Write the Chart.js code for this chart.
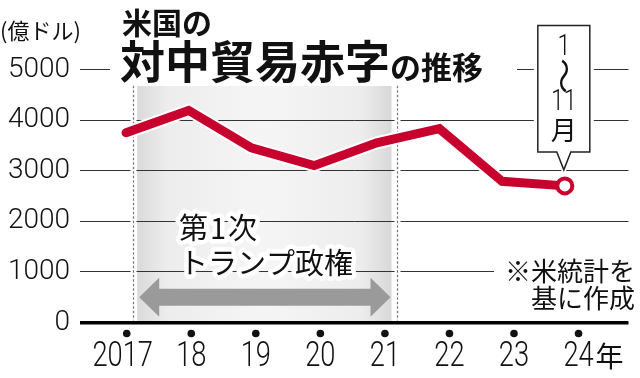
<!DOCTYPE html>
<html lang="ja">
<head>
<meta charset="utf-8">
<script src="https://cdn.jsdelivr.net/npm/chart.js@4.4.0/dist/chart.umd.min.js"></script>
<style>
  html, body { margin: 0; padding: 0; background: #fff; }
</style>
</head>
<body>
<canvas id="chart" width="640" height="378"></canvas>
<script>
const years = ['2017', '18', '19', '20', '21', '22', '23', '24'];
const deficit = [3750, 4190, 3450, 3100, 3550, 3830, 2790, 2700]; // 億ドル, 2024 is Jan-Nov
const yTicks = [0, 1000, 2000, 3000, 4000, 5000];
const termStart = 0.1;   // first Trump term, on the tick axis
const termEnd = 4.18;

const RED = '#c8002d';
const JP = '"Noto Sans CJK JP", "Noto Sans", sans-serif';
const NUM = 'Roboto, "Liberation Sans", sans-serif';

function haloText(ctx, text, x, y, w) {
    ctx.lineJoin = 'round';
    ctx.lineWidth = w;
    ctx.strokeStyle = '#fff';
    ctx.strokeText(text, x, y);
    ctx.fillText(text, x, y);
}

function narrowText(ctx, text, x, y, sx) {
    ctx.save();
    ctx.translate(x, y);
    ctx.scale(sx, 1);
    ctx.fillText(text, 0, 0);
    ctx.restore();
}

const decor = {
    id: 'decor',
    beforeDraw(chart) {
        const {ctx, chartArea} = chart;
        const xt = chart.scales.xt, y = chart.scales.y;
        const l = xt.getPixelForValue(termStart) + 4, r = xt.getPixelForValue(termEnd) - 5;
        const top = y.getPixelForValue(4680);
        const g = ctx.createLinearGradient(l, 0, r, 0);
        g.addColorStop(0, '#dadada');
        g.addColorStop(0.12, '#ededed');
        g.addColorStop(0.5, '#f5f5f5');
        g.addColorStop(0.88, '#ededed');
        g.addColorStop(1, '#d8d8d8');
        ctx.save();
        ctx.fillStyle = g;
        ctx.fillRect(l, top, r - l, chartArea.bottom - top);
        ctx.restore();
    },
    beforeDatasetsDraw(chart) {
        const {ctx, chartArea} = chart;
        const xt = chart.scales.xt, y = chart.scales.y;
        const top = y.getPixelForValue(4680);
        ctx.save();
        // white gaps where the title and the note sit on the grid
        ctx.fillStyle = '#fff';
        ctx.fillRect(110, 56, 407, 30);
        ctx.fillRect(494, 258, 146, 54);
        // dashed term borders
        [termStart, termEnd].forEach(v => {
            const px = Math.round(xt.getPixelForValue(v)) + 0.5;
            ctx.fillStyle = '#fff';
            ctx.fillRect(px - 3, top, 6, chartArea.bottom - top - 2);
            ctx.strokeStyle = '#777';
            ctx.lineWidth = 1.2;
            ctx.setLineDash([2.5, 2]);
            ctx.beginPath();
            ctx.moveTo(px, top);
            ctx.lineTo(px, chartArea.bottom - 2);
            ctx.stroke();
        });
        ctx.restore();
    },
    afterDraw(chart) {
        const {ctx} = chart;
        const xt = chart.scales.xt, y = chart.scales.y;
        ctx.save();
        ctx.fillStyle = '#111';
        ctx.textBaseline = 'middle';

        // titles
        ctx.textAlign = 'left';
        ctx.font = `22px ${JP}`;
        ctx.fillText('(億ドル)', 0, 31);
        ctx.font = `bold 30px ${JP}`;
        ctx.fillText('米国の', 122, 23);
        ctx.font = `bold 45px ${JP}`;
        ctx.fillText('対中貿易赤字', 120, 62);
        ctx.font = `bold 31px ${JP}`;
        ctx.fillText('の推移', 390, 67);

        // arrow for the term
        const l = xt.getPixelForValue(termStart) + 6, r = xt.getPixelForValue(termEnd) - 6;
        const ay = y.getPixelForValue(500);
        ctx.fillStyle = '#9a9a9a';
        ctx.beginPath();
        ctx.moveTo(l, ay);
        ctx.lineTo(l + 20, ay - 19.5);
        ctx.lineTo(l + 20, ay - 8.5);
        ctx.lineTo(r - 20, ay - 8.5);
        ctx.lineTo(r - 20, ay - 19.5);
        ctx.lineTo(r, ay);
        ctx.lineTo(r - 20, ay + 19.5);
        ctx.lineTo(r - 20, ay + 8.5);
        ctx.lineTo(l + 20, ay + 8.5);
        ctx.lineTo(l + 20, ay + 19.5);
        ctx.closePath();
        ctx.fill();

        // term label with halo
        ctx.fillStyle = '#111';
        ctx.font = `29px ${JP}`;
        ctx.letterSpacing = '2px';
        haloText(ctx, '第1次', 179, 228, 9);
        ctx.letterSpacing = '0px';
        haloText(ctx, 'トランプ政権', 179, 263, 9);

        // source note
        ctx.textAlign = 'right';
        ctx.font = `26px ${JP}`;
        ctx.fillText('※米統計を', 635, 271);
        ctx.fillText('基に作成', 635, 298);

        // tick dots, condensed year labels and the year suffix
        ctx.textAlign = 'center';
        ctx.font = `300 35px ${NUM}`;
        xt.ticks.forEach(t => {
            const px = xt.getPixelForValue(t.value);
            ctx.beginPath();
            ctx.arc(px, 333.5, 3.8, 0, Math.PI * 2);
            ctx.fill();
            narrowText(ctx, years[t.value], px - (t.value === 0 ? 4 : 0), 357, 0.78);
        });
        ctx.textAlign = 'left';
        ctx.font = `28px ${JP}`;
        ctx.fillText('年', xt.getPixelForValue(years.length - 1) + 17, 356);

        // callout for the Jan-Nov value
        const p = chart.getDatasetMeta(1).data[deficit.length - 1];
        const cx = p.x - 1, tipY = p.y - 16;
        const bl = cx - 26, br = cx + 26, bt = 25.5, bb = 152;
        ctx.fillStyle = '#fff';
        ctx.fillRect(bl - 4, bt - 3, br - bl + 8, bb - bt + 6);
        ctx.beginPath();
        ctx.moveTo(bl, bt);
        ctx.lineTo(br, bt);
        ctx.lineTo(br, bb);
        ctx.lineTo(cx + 7, bb);
        ctx.lineTo(cx, tipY);
        ctx.lineTo(cx - 7, bb);
        ctx.lineTo(bl, bb);
        ctx.closePath();
        ctx.lineJoin = 'miter';
        ctx.lineWidth = 5;
        ctx.strokeStyle = '#fff';
        ctx.stroke();
        ctx.fill();
        ctx.lineWidth = 1.5;
        ctx.strokeStyle = '#222';
        ctx.stroke();

        ctx.fillStyle = '#111';
        ctx.textAlign = 'center';
        ctx.font = `300 29px ${NUM}`;
        narrowText(ctx, '1', cx, 48, 0.8);
        narrowText(ctx, '11', cx, 103, 0.8);
        ctx.save();
        ctx.translate(cx, 76);
        ctx.rotate(Math.PI / 2);
        ctx.scale(1, 0.8);
        ctx.font = `36px ${JP}`;
        ctx.fillText('〜', 0, 0);
        ctx.restore();
        ctx.font = `26px ${JP}`;
        ctx.fillText('月', cx, 130);
        ctx.restore();
    }
};

const points = deficit.map((v, i) => ({x: i, y: v}));
const last = deficit.length - 1;

new Chart(document.getElementById('chart'), {
    type: 'line',
    data: {
        datasets: [{
            data: points,
            borderColor: '#fff',
            borderWidth: 13,
            borderCapStyle: 'round',
            borderJoinStyle: 'miter',
            pointRadius: c => c.dataIndex === last ? 11 : 0,
            pointBackgroundColor: '#fff',
            pointBorderWidth: 0,
            order: 2
        }, {
            data: points,
            borderColor: RED,
            borderWidth: 9,
            borderCapStyle: 'round',
            borderJoinStyle: 'miter',
            pointRadius: c => c.dataIndex === last ? 7.5 : 0,
            pointBackgroundColor: '#fff',
            pointBorderColor: RED,
            pointBorderWidth: 4,
            order: 1
        }]
    },
    options: {
        responsive: false,
        animation: false,
        events: [],
        layout: {padding: {top: 69.5, right: 0, bottom: 0, left: 0}},
        plugins: {legend: {display: false}, tooltip: {enabled: false}},
        scales: {
            x: {type: 'linear', min: -0.734, max: 8.016, display: false},
            xt: {
                type: 'linear', position: 'bottom', min: -0.724, max: 7.774,
                afterFit: s => { s.height = 55.5; },
                grid: {display: false, drawTicks: false},
                border: {display: false},
                ticks: {stepSize: 1, includeBounds: false, autoSkip: false, display: false}
            },
            y: {
                min: 0, max: 5000,
                afterFit: s => { s.width = 80; },
                afterBuildTicks: s => { s.ticks = yTicks.map(v => ({value: v})); },
                grid: {
                    drawTicks: false,
                    color: c => c.tick && c.tick.value === 0 ? '#000' : '#333',
                    lineWidth: c => c.tick && c.tick.value === 0 ? 3.5 : 1
                },
                border: {display: false},
                ticks: {
                    padding: 10, color: '#111',
                    font: {family: NUM, size: 28, weight: '300'},
                    callback: v => String(v)
                }
            }
        }
    },
    plugins: [decor]
});
</script>
</body>
</html>
